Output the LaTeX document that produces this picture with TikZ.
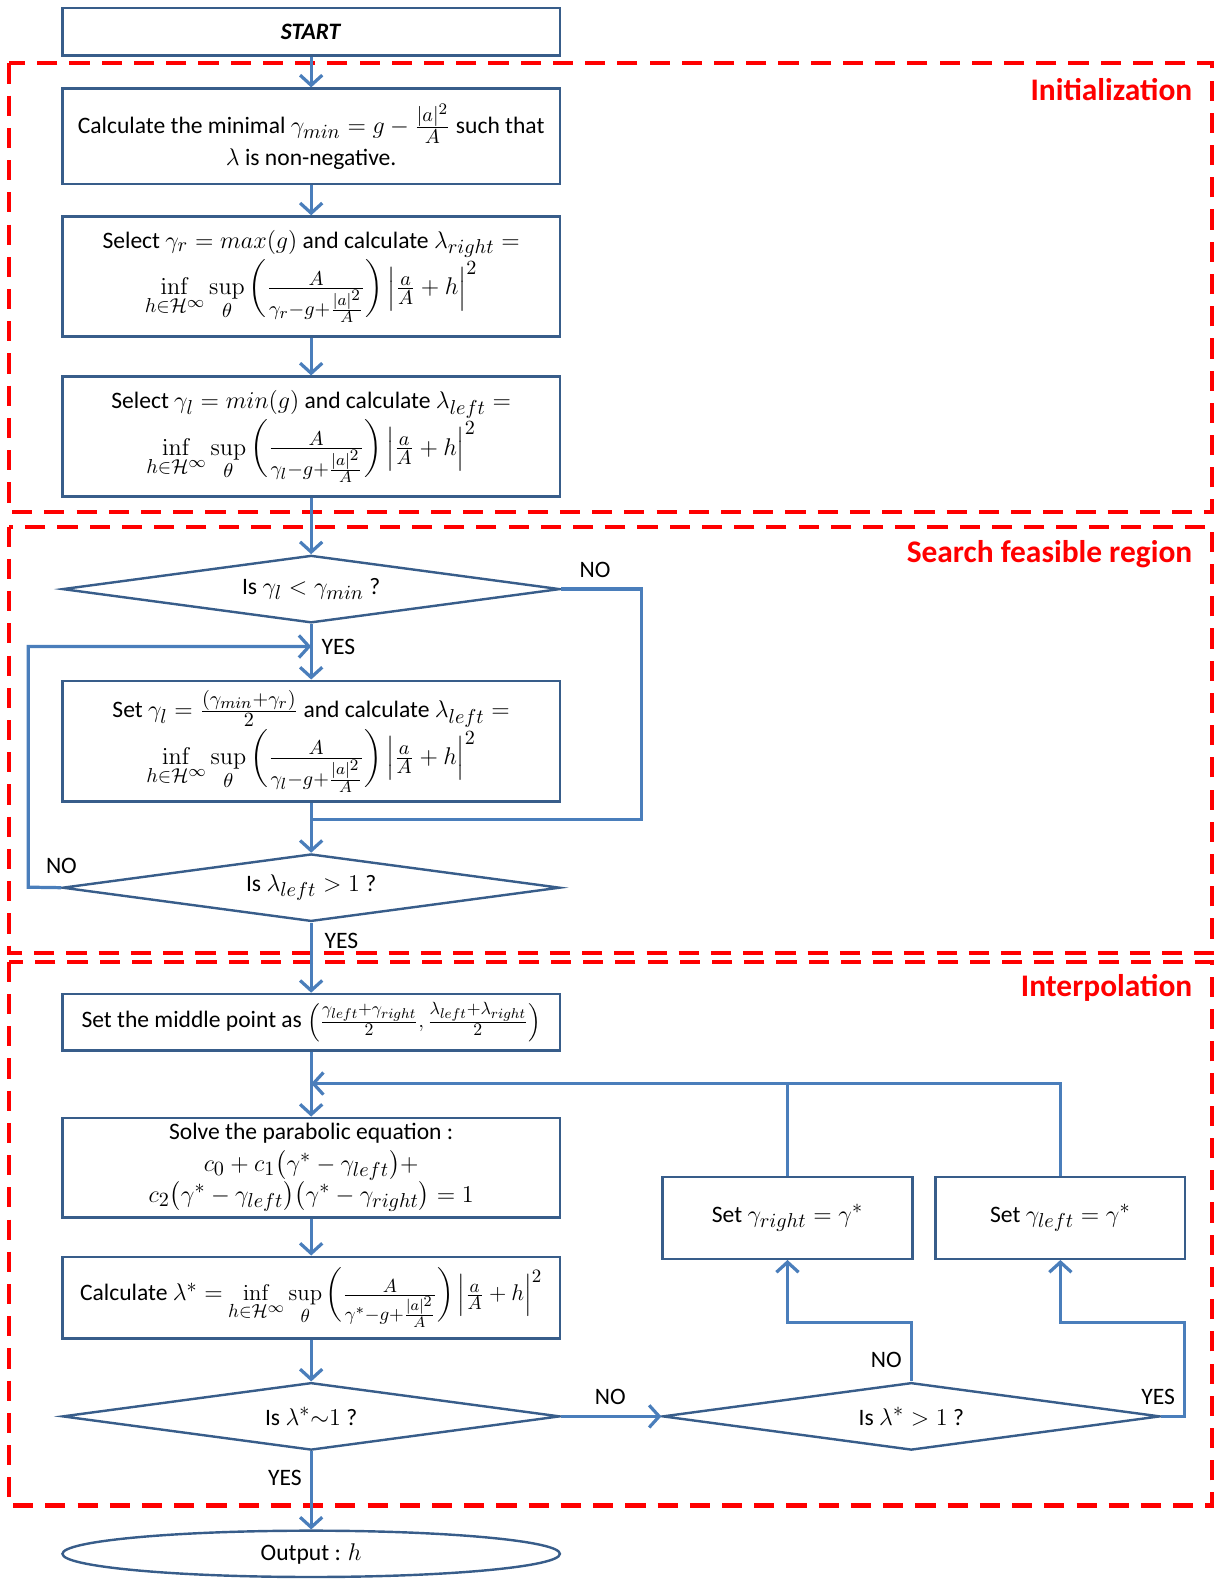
\documentclass[tikz,border=0pt]{standalone}
\usepackage{amsmath}
\usepackage{graphicx}
\usepackage[no-math]{fontspec}
\setmainfont{Carlito}
\usetikzlibrary{arrows.meta,shapes.geometric}
\DeclareMathSizes{11.7}{12.6}{9.6}{7.6}
\definecolor{linkblue}{RGB}{74,126,187}
\definecolor{edgeblue}{RGB}{56,93,138}
\definecolor{zonered}{RGB}{255,0,0}
\newcommand{\infsup}[1]{\inf\limits_{h\in\mathcal{H}^\infty}\sup\limits_{\theta}\,\biggl(\frac{A}{#1-g+\frac{|a|^2}{A}}\biggr)\,\Bigl|\frac{a}{A}+h\Bigr|^2}
\begin{document}
\begin{tikzpicture}[x=0.5pt,y=-0.5pt,
  every node/.style={font=\fontsize{11.7}{15.5}\selectfont},
  stepbox/.style={draw=edgeblue,line width=1.2pt,rectangle,inner sep=0pt,
    minimum width=247pt,align=center,fill=white},
  sidebox/.style={stepbox,minimum width=124pt,minimum height=40.5pt},
  test/.style={draw=edgeblue,line width=1.2pt,diamond,aspect=7.4,inner sep=0pt,
    minimum width=247pt,minimum height=33.5pt,align=center},
  term/.style={draw=edgeblue,line width=1.2pt,ellipse,inner sep=0pt,
    minimum width=247pt,minimum height=23pt},
  link/.style={draw=linkblue,line width=1.6pt},
  arr/.style={link,-{Straight Barb[length=5pt,width=11pt]}},
  zone/.style={draw=zonered,line width=2pt,dash pattern=on 10pt off 6pt},
  zonetitle/.style={text=zonered,anchor=east,font=\fontsize{15.6}{18}\selectfont\bfseries},
  tag/.style={inner sep=0pt}
]
\useasboundingbox (0,0) rectangle (1220,1568);

% dashed stage frames
\draw[zone] (9,63) rectangle (1204,508);
\draw[zone] (9,523) rectangle (1204,946);
\draw[zone] (9,955) rectangle (1204,1495);
\node[zonetitle] (tinit) at (1191,89) {Initialization};
\node[zonetitle] (tsearch) at (1191,550) {Search feasible region};
\node[zonetitle] (tinterp) at (1191,981) {Interpolation};

% main column
\node[stepbox,minimum height=23.5pt] (start) at (309,31.5) {\textbf{\textit{START}}};
\node[stepbox,minimum height=47.5pt] (b1) at (309,135.5)
  {Calculate the minimal $\gamma_{min} = g-\frac{|a|^2}{A}$ such that\\ $\lambda$ is non-negative.};
\node[stepbox,minimum height=59.5pt] (b2) at (309,274.5)
  {Select $\gamma_r = max(g)$ and calculate $\lambda_{right} =$\\ $\infsup{\gamma_r}$};
\node[stepbox,minimum height=59.5pt] (b3) at (309,433.5)
  {Select $\gamma_l = min(g)$ and calculate $\lambda_{left} =$\\ $\infsup{\gamma_l}$};
\node[test] (d1) at (309,585) {Is $\gamma_l < \gamma_{min}$ ?};
\node[stepbox,minimum height=60pt] (b4) at (309,736)
  {Set $\gamma_l = \frac{(\gamma_{min}+\gamma_r)}{2}$ and calculate $\lambda_{left} =$\\ $\infsup{\gamma_l}$};
\node[test] (d2) at (309,881.5) {Is $\lambda_{left} > 1$ ?};
\node[stepbox,minimum height=28pt] (b5) at (309,1015)
  {Set the middle point as \scalebox{0.88}{$\Bigl(\frac{\gamma_{left}+\gamma_{right}}{2},\frac{\lambda_{left}+\lambda_{right}}{2}\Bigr)$}};
\node[stepbox,minimum height=49.5pt] (b6) at (309,1159.5)
  {Solve the parabolic equation :\\ $c_0 + c_1\bigl(\gamma^* - \gamma_{left}\bigr) +$\\
   $c_2\bigl(\gamma^* - \gamma_{left}\bigr)\bigl(\gamma^* - \gamma_{right}\bigr) = 1$};
\node[stepbox,minimum height=40.5pt] (b7) at (309,1288.5)
  {Calculate $\lambda^* =$ \scalebox{0.94}{$\infsup{\gamma^*}$}};
\node[test] (d3) at (309,1406.5) {Is $\lambda^*{\sim}1$ ?};
\node[term] (out) at (309,1543) {Output : $h$};

% right column
\node[test] (d4) at (905,1406.5) {Is $\lambda^* > 1$ ?};
\node[sidebox] (b8) at (782,1209.5) {Set $\gamma_{right} = \gamma^*$};
\node[sidebox] (b9) at (1053,1209.5) {Set $\gamma_{left} = \gamma^*$};

% bends
\coordinate (noR) at (637,814);
\coordinate (loopL) at (28,881);
\coordinate (loopIn) at (309,642);
\coordinate (back) at (309,1076);
\coordinate (k1) at (905,1313);
\coordinate (k2) at (1176,1313);

% connectors
\draw[arr] (start) -- (b1);
\draw[arr] (b1) -- (b2);
\draw[arr] (b2) -- (b3);
\draw[arr] (b3) -- (d1.north);
\draw[arr] (d1.south) -- (b4.north);
\draw[link] (d1.east) -| (noR) -- (b4.south |- noR);
\draw[arr] (b4.south) -- (d2.north);
\draw[arr] (d2.west) -- (loopL) |- (loopIn);
\draw[arr] (d2.south) -- (b5.north);
\draw[arr] (b5.south) -- (b6.north);
\draw[arr] (b6.south) -- (b7.north);
\draw[arr] (b7.south) -- (d3.north);
\draw[arr] (d3.south) -- (out.north);
\draw[arr] (d3.east) -- (d4.west);
\draw[arr] (d4.north) -- (k1) -| (b8.south);
\draw[arr] (d4.east) -| (k2) -| (b9.south);
\draw[arr] (b9.north) |- (back);
\draw[link] (b8.north) -- (b8.north |- back);

% branch labels
\node[tag] (n1) at (591,566) {NO};
\node[tag] (y1) at (336,642) {YES};
\node[tag] (n2) at (61,860) {NO};
\node[tag] (y2) at (339,934) {YES};
\node[tag] (n3) at (606,1387) {NO};
\node[tag] (y3) at (283,1468) {YES};
\node[tag] (n4) at (880,1350) {NO};
\node[tag] (y4) at (1150,1387) {YES};
\end{tikzpicture}
\end{document}
